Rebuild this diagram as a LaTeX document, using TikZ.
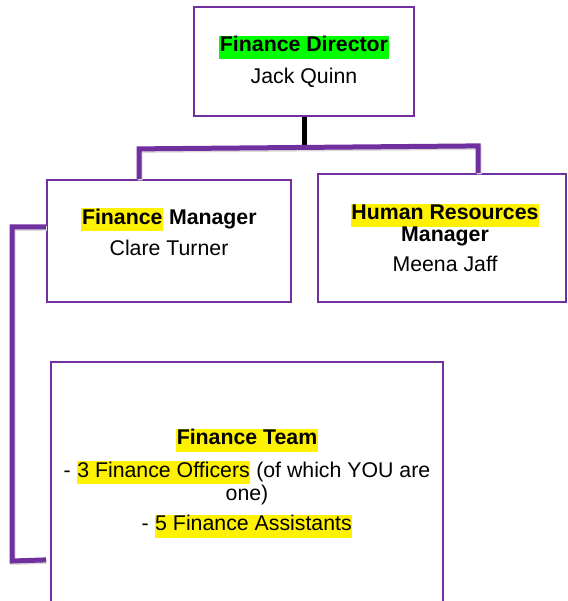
\documentclass[tikz,border=0pt]{standalone}
\usepackage{fontspec}
\setmainfont{Liberation Sans}
\usepackage{xcolor}
\usetikzlibrary{positioning, calc}
\definecolor{orgpurple}{RGB}{112,48,160}
\newcommand{\hlite}[2]{{\setlength{\fboxsep}{0.6pt}\colorbox{#1}{\strut #2}}}

\begin{document}
\begin{tikzpicture}[x=1pt, y=1pt,
  box/.style={draw=orgpurple, line width=2.2pt, fill=white, inner sep=0pt},
  txt/.style={align=center, inner sep=0pt, font=\fontsize{21.3}{22}\selectfont},
  bar/.style={draw=orgpurple, line width=5pt},
  shadowed/.style={preaction={draw=black!15, line width=5pt, transform canvas={xshift=1pt, yshift=-1.5pt}}}]
\useasboundingbox (0,0) rectangle (567,601);
\clip (0,0) rectangle (567,601);
% boxes
\node[box, minimum width=220pt, minimum height=109pt] (dir) at (304,539.5) {};
\node[box, minimum width=244pt, minimum height=122pt] (mgr) at (169,360) {};
\node[box, minimum width=248pt, minimum height=128pt] (hr) at (442,363) {};
\node[box, minimum width=392pt, minimum height=279pt] (team) at (247,99.5) {};
% texts
\node[txt] (dirtxt) at (dir.center) {\hlite{green}{\textbf{Finance Director}}\\[8pt] Jack Quinn};
\node[txt] (mgrtxt) at ([yshift=9pt]mgr.center) {\hlite{yellow}{\textbf{Finance}} \textbf{Manager}\\[8pt] Clare Turner};
\node[txt] (hrtxt) at ([xshift=3pt]hr.center) {\hlite{yellow}{\textbf{Human Resources}}\\ \textbf{Manager}\\[8pt] Meena Jaff};
\node[txt] (teamtxt) at ([yshift=18pt]team.center) {\hlite{yellow}{\textbf{Finance Team}}\\[8pt]
  - \hlite{yellow}{3 Finance Officers} (of which YOU are\\ one)\\[8pt]
  - \hlite{yellow}{5 Finance Assistants}};
% links
\draw[line width=5pt] (dir.south) -- ++(0,-33);
\draw[bar, shadowed] ([xshift=-30pt]mgr.north) -- ++(0,30) -- ([xshift=36pt, yshift=27pt]hr.north) -- ([xshift=36pt]hr.north);
\draw[bar, shadowed] ([yshift=14pt]mgr.west) -| (12,40) -- ([xshift=-4pt, yshift=-199pt]team.north west);
\end{tikzpicture}
\end{document}
